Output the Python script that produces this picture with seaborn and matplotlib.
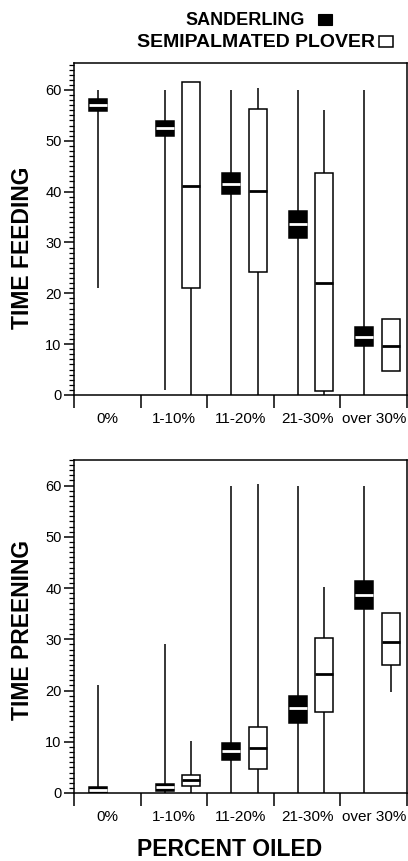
import numpy as np
import pandas as pd
import matplotlib
matplotlib.use("Agg")
import matplotlib.pyplot as plt
import seaborn as sns
from matplotlib.patches import Rectangle
from matplotlib.ticker import MultipleLocator

# ---------------- data ----------------
categories = ["0%", "1-10%", "11-20%", "21-30%", "over 30%"]
species = ["SANDERLING", "SEMIPALMATED PLOVER"]

# five-number summaries [min, q1, median, q3, max]
feed_sanderling = [[21, 55.9, 57.1, 58.3, 60],
                   [1, 51.0, 52.5, 53.8, 60],
                   [0, 39.5, 41.5, 43.6, 60],
                   [0, 30.8, 33.6, 36.1, 60],
                   [0, 9.6, 11.5, 13.4, 60]]
feed_plover = [None,
               [0, 21.0, 41.1, 61.5, 61.5],
               [0, 24.1, 40.2, 56.2, 60.4],
               [0, 0.7, 22.0, 43.6, 56.1],
               [4.8, 4.8, 9.6, 14.9, 14.9]]
preen_sanderling = [[0, 0, 0.5, 1.1, 21],
                    [0, 0.45, 1.1, 1.7, 29],
                    [0, 6.4, 8.2, 9.8, 60],
                    [0, 13.7, 16.5, 18.9, 60],
                    [0, 36.0, 38.6, 41.4, 60]]
preen_plover = [None,
                [0, 1.4, 2.5, 3.6, 10.2],
                [0, 4.6, 8.7, 12.8, 60.3],
                [0, 15.8, 23.3, 30.3, 40.2],
                [19.7, 24.9, 29.5, 35.1, 35.1]]

y_labels = ["TIME FEEDING", "TIME PREENING"]
x_label = "PERCENT OILED"


def long_frame(sand, plov):
    rows = []
    for cat, s, p in zip(categories, sand, plov):
        for sp, summ in ((species[0], s), (species[1], p)):
            if summ is None:
                continue
            for v in summ:
                rows.append({"category": cat, "species": sp, "value": v})
    return pd.DataFrame(rows)


feed_df = long_frame(feed_sanderling, feed_plover)
preen_df = long_frame(preen_sanderling, preen_plover)

# ---------------- style ----------------
sns.set_style("ticks")
plt.rcParams["font.family"] = ["Liberation Sans", "DejaVu Sans"]
for key in ("text.color", "axes.labelcolor", "xtick.color", "ytick.color",
            "axes.edgecolor"):
    plt.rcParams[key] = "black"
plt.rcParams["axes.linewidth"] = 1.1

W, H = 408, 861
fig = plt.figure(figsize=(W / 100, H / 100), dpi=100)
ax1 = fig.add_axes([74 / W, 1 - 395 / H, 333 / W, 332 / H])
ax2 = fig.add_axes([74 / W, 1 - 793 / H, 333 / W, 333 / H])

palette = {species[0]: "black", species[1]: "white"}


def draw(ax, df, ytop, ylabel, ylab_y):
    common = dict(x="category", y="value", hue="species", order=categories,
                  hue_order=species, dodge=True, width=0.8, gap=0.325,
                  whis=(0, 100), showcaps=False, legend=False, ax=ax,
                  linewidth=1.1, linecolor="black", palette=palette,
                  saturation=1, showfliers=False)
    sns.boxplot(data=df[df["species"] == species[0]],
                medianprops=dict(color="white", linewidth=2.0), **common)
    sns.boxplot(data=df[df["species"] == species[1]],
                medianprops=dict(color="black", linewidth=2.0), **common)
    ax.set_xlim(-0.56, 4.44)
    ax.set_ylim(0, ytop)
    bounds = np.arange(len(categories) + 1) - 0.56
    centers = np.arange(len(categories)) - 0.06
    ax.set_xticks(bounds)
    ax.set_xticklabels([""] * len(bounds))
    ax.set_xticks(centers, minor=True)
    ax.set_xticklabels(categories, minor=True)
    ax.tick_params(axis="x", which="major", length=9, width=1.1,
                   direction="out", color="black")
    ax.tick_params(axis="x", which="minor", length=0, pad=12, labelsize=11,
                   labelcolor="black")
    ax.yaxis.set_major_locator(MultipleLocator(10))
    ax.yaxis.set_minor_locator(MultipleLocator(1))
    ax.tick_params(axis="y", which="major", length=7, width=1.1, pad=2,
                   labelsize=10.5, color="black", labelcolor="black")
    ax.tick_params(axis="y", which="minor", length=3.5, width=0.9, color="black")
    for s in ax.spines.values():
        s.set_visible(True)
        s.set_linewidth(1.1)
        s.set_color("black")
    ax.set_xlabel("")
    ax.set_ylabel(ylabel, fontsize=16.5, fontweight="bold", color="black")
    ax.yaxis.set_label_coords(-0.156, ylab_y)
    ax.yaxis.label.set_va("center")


draw(ax1, feed_df, 65.3, y_labels[0], (395 - 248) / 332)
draw(ax2, preen_df, 65.0, y_labels[1], (793 - 630) / 333)

ax2.set_xlabel(x_label, fontsize=16.5, fontweight="bold", color="black")
ax2.xaxis.set_label_coords((229.5 - 74) / 333, (793 - 856) / 333)
ax2.xaxis.label.set_va("baseline")

# ---------------- legend (top) ----------------
fig.text(305 / W, 1 - 25 / H, species[0], ha="right", va="baseline",
         fontsize=13, fontweight="bold", color="black")
fig.add_artist(Rectangle((318 / W, 1 - 25 / H), 14 / W, 11 / H,
                         transform=fig.transFigure, facecolor="black",
                         edgecolor="black", linewidth=0.8))
fig.text(375 / W, 1 - 47 / H, species[1], ha="right", va="baseline",
         fontsize=14, fontweight="bold", color="black")
fig.add_artist(Rectangle((379 / W, 1 - 47 / H), 14 / W, 11 / H,
                         transform=fig.transFigure, facecolor="white",
                         edgecolor="black", linewidth=1.1))

fig.savefig("out.png", dpi=100)
